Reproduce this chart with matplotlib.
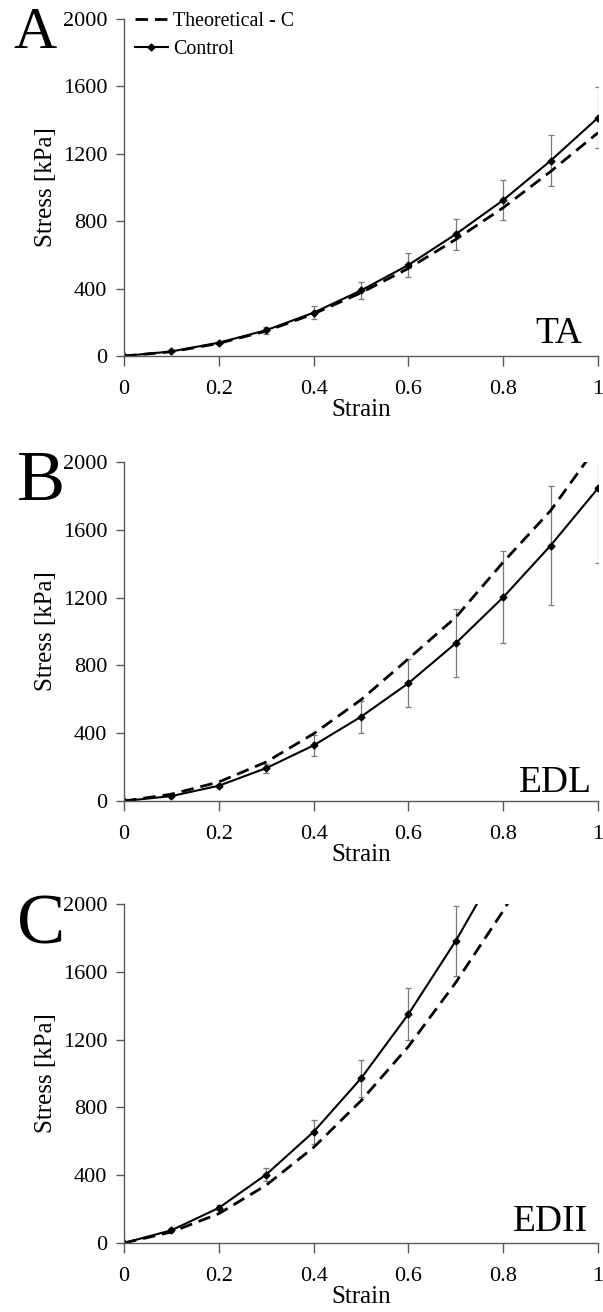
import matplotlib.pyplot as plt
import numpy as np

plt.rcParams['font.family'] = ['Liberation Serif', 'DejaVu Serif']

strain = [0, 0.1, 0.2, 0.3, 0.4, 0.5, 0.6, 0.7, 0.8, 0.9, 1.0]

# panel A - TA
ta_control = [0, 27, 79, 153, 257, 389, 540, 723, 925, 1159, 1414]
ta_err = [0, 0, 5, 20, 37, 49, 70, 91, 120, 150, 182]
ta_theory = [0, 25, 75, 148, 250, 375, 520, 692, 880, 1095, 1325]

# panel B - EDL
edl_control = [0, 29, 90, 194, 328, 497, 695, 931, 1202, 1507, 1845]
edl_err = [0, 5, 10, 27, 61, 93, 143, 202, 272, 350, 440]
edl_theory = [0, 40, 112, 230, 397, 597, 839, 1084, 1409, 1713, 2100]

# panel C - EDII
edii_control = [0, 75, 207, 404, 656, 971, 1350, 1783, 2270, 2800, 3380]
edii_err = [0, 5, 15, 40, 69, 108, 153, 205, 240, 280, 320]
edii_theory = [0, 65, 173, 341, 564, 839, 1159, 1537, 1960, 2430, 2950]

panels = [
    ('A', 'TA', ta_control, ta_err, ta_theory),
    ('B', 'EDL', edl_control, edl_err, edl_theory),
    ('C', 'EDII', edii_control, edii_err, edii_theory),
]

fig = plt.figure(figsize=(6.03, 13.12), dpi=100)
H = 1312.0
tops = [19, 462, 904]
bottoms = [356, 801, 1243]
left, right = 124 / 603, 598 / 603

# panel letter placement (pixels) and sizes
letter_x = [13, 17, 17]
letter_base = [48, 500, 943]
letter_size = [43, 52, 52]
# muscle label placement in axes fractions
mus_x = [0.966, 0.987, 0.979]
mus_y = [0.040, 0.027, 0.036]

grey = '#595959'
for i, (letter, muscle, ctrl, err, theo) in enumerate(panels):
    b = 1 - bottoms[i] / H
    t = 1 - tops[i] / H
    ax = fig.add_axes([left, b, right - left, t - b])

    ax.errorbar(strain, ctrl, yerr=err, fmt='none', ecolor='#7a7a7a',
                elinewidth=0.9, capsize=2.5, capthick=0.9)
    ax.plot(strain, theo, color='black', lw=2.0, ls=(0, (4.5, 2.5)),
            label='Theoretical - C')
    ax.plot(strain, ctrl, color='black', lw=1.5, marker='D', ms=3.5,
            label='Control')

    ax.set_xlim(0, 1)
    ax.set_ylim(0, 2000)
    ax.set_xticks([0, 0.2, 0.4, 0.6, 0.8, 1])
    ax.set_xticklabels(['0', '0.2', '0.4', '0.6', '0.8', '1'])
    ax.set_yticks([0, 400, 800, 1200, 1600, 2000])
    ax.tick_params(axis='both', labelsize=16, color=grey, width=1,
                   direction='out')
    ax.tick_params(axis='x', length=7, pad=10)
    ax.tick_params(axis='y', length=6, pad=6)
    for s in ['top', 'right']:
        ax.spines[s].set_visible(False)
    for s in ['left', 'bottom']:
        ax.spines[s].set_color(grey)
        ax.spines[s].set_linewidth(1)
    ax.set_xlabel('Strain', fontsize=18, labelpad=0)
    ax.set_ylabel('Stress [kPa]', fontsize=18, labelpad=4)

    ax.text(mus_x[i], mus_y[i], muscle, transform=ax.transAxes, ha='right',
            va='baseline', fontsize=27)
    fig.text(letter_x[i] / 603, 1 - letter_base[i] / H, letter, ha='left',
             va='baseline', fontsize=letter_size[i])

    if i == 0:
        ax.legend(loc='upper left', bbox_to_anchor=(0.006, 1.045),
                  frameon=False, fontsize=14.4, handlelength=1.65,
                  handletextpad=0.25, labelspacing=0.45, borderaxespad=0.0)

fig.savefig('out.png', dpi=100)
